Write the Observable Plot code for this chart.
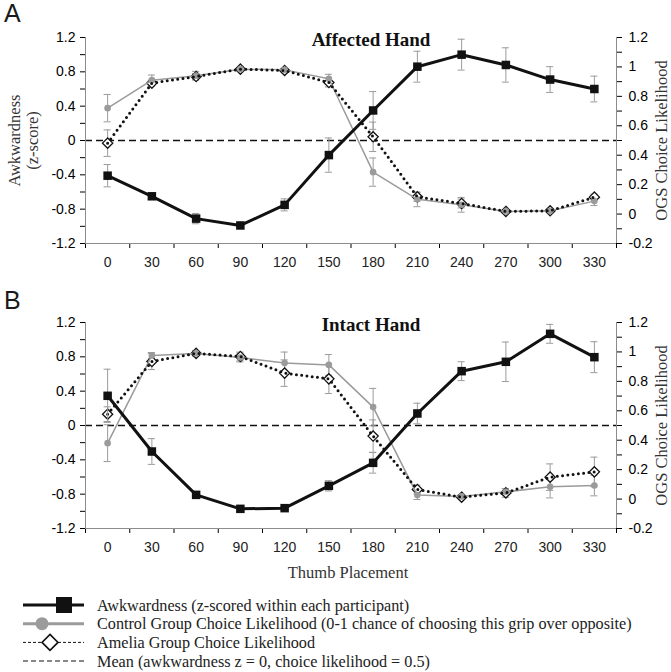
<!DOCTYPE html>
<html><head><meta charset="utf-8">
<script src="https://cdn.jsdelivr.net/npm/d3@7"></script>
<script src="https://cdn.jsdelivr.net/npm/@observablehq/plot@0.6"></script>
<style>
body{margin:0;background:#fff;}
#fig{position:relative;width:671px;height:672px;background:#fff;overflow:hidden;font-family:"Liberation Sans",Arial,sans-serif;}
.letter{position:absolute;left:4px;font-size:25px;line-height:28px;color:#1a1a1a;font-family:"Liberation Sans",Arial,sans-serif;}
.panel{position:absolute;left:0;width:671px;}
.panel svg{position:absolute;left:0;top:0;}
#legend{position:absolute;left:0;}
#legend svg{overflow:visible;}
#fig svg [aria-label$="axis"] line, #fig svg [aria-label$="axis"] path{stroke:#8c8c8c;}
#fig svg [aria-label$="axis"] text{fill:#222;}
</style></head><body>
<div id="fig">
  <div id="A" class="panel" style="top:0px;height:285px"></div>
  <div id="B" class="panel" style="top:285px;height:300px"></div>
  <div class="letter" style="top:-1px">A</div>
  <div class="letter" style="top:286px">B</div>
  <div id="legend" style="top:595px"></div>
</div>
<script>
// ---- data ----
const placements = [0, 30, 60, 90, 120, 150, 180, 210, 240, 270, 300, 330];

// Panel A (Affected Hand): awkwardness in z units, choice likelihoods in 0-1 units
const awkA     = [-0.41, -0.65, -0.91, -0.99, -0.75, -0.17, 0.35, 0.86, 1.00, 0.88, 0.71, 0.60];
const awkAErr  = [0.13, 0.03, 0.06, 0.02, 0.07, 0.20, 0.22, 0.18, 0.18, 0.20, 0.15, 0.15];
const ctrlA    = [0.72, 0.91, 0.94, 0.985, 0.98, 0.92, 0.285, 0.10, 0.063, 0.018, 0.022, 0.088];
const ctrlAErr = [0.093, 0.035, 0.03, 0.01, 0.01, 0.03, 0.096, 0.05, 0.05, 0.01, 0.01, 0.03];
const amelA    = [0.482, 0.89, 0.935, 0.985, 0.976, 0.894, 0.525, 0.117, 0.072, 0.018, 0.022, 0.115];
const amelAErr = [0.09, 0.02, 0.02, 0.01, 0.01, 0.03, 0.10, 0.03, 0.03, 0.01, 0.01, 0.02];

// Panel B (Intact Hand)
const awkB     = [0.346, -0.303, -0.808, -0.971, -0.963, -0.703, -0.435, 0.14, 0.633, 0.742, 1.068, 0.796];
const awkBErr  = [0.31, 0.15, 0.02, 0.02, 0.02, 0.06, 0.12, 0.12, 0.11, 0.23, 0.11, 0.18];
const ctrlB    = [0.38, 0.976, 0.99, 0.962, 0.924, 0.912, 0.625, 0.027, 0.018, 0.049, 0.083, 0.092];
const ctrlBErr = [0.125, 0.02, 0.01, 0.03, 0.075, 0.07, 0.127, 0.03, 0.01, 0.02, 0.075, 0.07];
const amelB    = [0.577, 0.935, 0.99, 0.969, 0.856, 0.817, 0.428, 0.065, 0.013, 0.042, 0.149, 0.185];
const amelBErr = [0.05, 0.055, 0.02, 0.03, 0.09, 0.10, 0.11, 0.03, 0.01, 0.03, 0.09, 0.10];

// ticks
const leftTicks = [-1.2, -0.8, -0.4, 0, 0.4, 0.8, 1.2];
const leftMinorTicks = [-1.2, -1, -0.8, -0.6, -0.4, -0.2, 0, 0.2, 0.4, 0.6, 0.8, 1, 1.2];
const rightTicks = [-0.2, 0, 0.2, 0.4, 0.6, 0.8, 1, 1.2];
const rightMinorTicks = [-0.2, -0.1, 0, 0.1, 0.2, 0.3, 0.4, 0.5, 0.6, 0.7, 0.8, 0.9, 1, 1.1, 1.2];
const xBoundaries = [-15, 15, 45, 75, 105, 135, 165, 195, 225, 255, 285, 315, 345];

const leftLabelLines = ["Awkwardness", "(z-score)"];
const rightLabel = "OGS Choice Likelihood";
const xLabel = "Thumb Placement";
const legendLabels = [
  "Awkwardness (z-scored within each participant)",
  "Control Group Choice Likelihood (0-1 chance of choosing this grip over opposite)",
  "Amelia Group Choice Likelihood",
  "Mean (awkwardness z = 0, choice likelihood = 0.5)"
];

// ---- helpers ----
const fmt = v => String(Math.round(v * 10) / 10);
const labelIf = list => d => list.some(t => Math.abs(t - d) < 1e-9) ? fmt(d) : "";
const grey = "#9b9b9b";
const axisGrey = "#8c8c8c";
const serif = "'Liberation Serif','Times New Roman',serif";
const sans = "'Liberation Sans',Arial,sans-serif";
const diamondSym = {
  draw(ctx, size) {
    const r = Math.sqrt(size) * 0.62625;
    ctx.moveTo(0, -r); ctx.lineTo(r, 0); ctx.lineTo(0, r); ctx.lineTo(-r, 0); ctx.closePath();
  }
};

function errMarks(rows, lo, hi) {
  return [
    Plot.ruleX(rows, {x: "p", y1: lo, y2: hi, stroke: grey, strokeWidth: 1}),
    Plot.ruleY(rows, {y: lo, x1: d => d.p - 2.4, x2: d => d.p + 2.4, stroke: grey, strokeWidth: 1}),
    Plot.ruleY(rows, {y: hi, x1: d => d.p - 2.4, x2: d => d.p + 2.4, stroke: grey, strokeWidth: 1})
  ];
}

function panel(el, cfg) {
  const rows = placements.map((p, i) => ({
    p,
    awk: cfg.awk[i], awkLo: cfg.awk[i] - cfg.awkErr[i], awkHi: cfg.awk[i] + cfg.awkErr[i],
    ctrl: cfg.ctrl[i], ctrlLo: cfg.ctrl[i] - cfg.ctrlErr[i], ctrlHi: cfg.ctrl[i] + cfg.ctrlErr[i],
    amel: cfg.amel[i], amelLo: cfg.amel[i] - cfg.amelErr[i], amelHi: cfg.amel[i] + cfg.amelErr[i]
  }));
  const common = {
    width: 671, height: cfg.height,
    marginLeft: 85, marginRight: 55, marginTop: 37, marginBottom: cfg.height - 243
  };

  // Layer 1: choice likelihood (right axis, 0-1 units)
  const lik = Plot.plot({
    ...common,
    x: {type: "linear", domain: [-15, 345], axis: null},
    y: {type: "linear", domain: [-0.2, 1.2], axis: "right", ticks: rightMinorTicks,
        tickFormat: labelIf(rightTicks), tickSize: 5, tickPadding: 7, label: null},
    style: {background: "white", fontFamily: sans, fontSize: "14px", overflow: "visible"},
    marks: [
      Plot.ruleY([0.5], {stroke: "#111", strokeWidth: 1.6, strokeDasharray: "7,4"}),
      ...errMarks(rows, "ctrlLo", "ctrlHi"),
      ...errMarks(rows, "amelLo", "amelHi"),
      Plot.dot(rows, {x: "p", y: "amel", symbol: diamondSym, r: 4.6, fill: "white", stroke: "#111", strokeWidth: 1.3}),
      Plot.line(rows, {x: "p", y: "ctrl", stroke: grey, strokeWidth: 1.5}),
      Plot.dot(rows, {x: "p", y: "ctrl", r: 3.3, fill: grey, stroke: "none"}),
      Plot.line(rows, {x: "p", y: "amel", stroke: "#111", strokeWidth: 3, strokeDasharray: "0,5.3", strokeLinecap: "round"}),
      Plot.text([rightLabel], {frameAnchor: "right", rotate: -90, dx: 45, textAnchor: "middle",
        fontFamily: serif, fontSize: 16.5, fill: "#333"})
    ]
  });

  // Layer 2: awkwardness (left axis, z units)
  const marks = [
    Plot.ruleX([-15, 345], {stroke: axisGrey, strokeWidth: 1}),
    Plot.ruleY([-1.2], {stroke: axisGrey, strokeWidth: 1}),
    Plot.text(placements, {x: d => d, text: d => String(d), frameAnchor: "bottom", dy: 19, lineAnchor: "middle",
      fontSize: 14, fontFamily: sans, fill: "#222"}),
    ...errMarks(rows, "awkLo", "awkHi"),
    Plot.line(rows, {x: "p", y: "awk", stroke: "#111", strokeWidth: 3}),
    Plot.dot(rows, {x: "p", y: "awk", symbol: "square", r: 4.8, fill: "#111", stroke: "none"}),
    Plot.text([cfg.title], {frameAnchor: "top", dx: 20, dy: 2, lineAnchor: "middle", textAnchor: "middle",
      fontFamily: serif, fontWeight: "bold", fontSize: 19, fill: "#111"})
  ];
  if (cfg.leftLabel) {
    marks.push(Plot.text([leftLabelLines[0]], {frameAnchor: "left", rotate: -90, dx: -71, textAnchor: "middle",
      fontFamily: serif, fontSize: 16.5, fill: "#333"}));
    marks.push(Plot.text([leftLabelLines[1]], {frameAnchor: "left", rotate: -90, dx: -53, textAnchor: "middle",
      fontFamily: serif, fontSize: 16.5, fill: "#333"}));
  }
  if (cfg.xLabel) marks.push(Plot.text([xLabel], {frameAnchor: "bottom", dx: -3, dy: 44, lineAnchor: "middle",
    textAnchor: "middle", fontFamily: serif, fontSize: 16.5, fill: "#333"}));
  const awk = Plot.plot({
    ...common,
    x: {type: "linear", domain: [-15, 345], axis: "bottom", ticks: xBoundaries, tickFormat: () => "", tickSize: 5, label: null},
    y: {type: "linear", domain: [-1.2, 1.2], axis: "left", ticks: leftMinorTicks,
        tickFormat: labelIf(leftTicks), tickSize: 5, tickPadding: 5, label: null},
    style: {background: "none", fontFamily: sans, fontSize: "14px", overflow: "visible"},
    marks
  });
  el.appendChild(lik);
  el.appendChild(awk);
}

panel(document.getElementById("A"), {
  awk: awkA, awkErr: awkAErr, ctrl: ctrlA, ctrlErr: ctrlAErr, amel: amelA, amelErr: amelAErr,
  title: "Affected Hand", leftLabel: true, height: 285
});
panel(document.getElementById("B"), {
  awk: awkB, awkErr: awkBErr, ctrl: ctrlB, ctrlErr: ctrlBErr, amel: amelB, amelErr: amelBErr,
  title: "Intact Hand", xLabel: true, height: 300
});

// ---- legend ----
const ys = [10, 28.7, 47.4, 66];
let s = `<svg width="671" height="77" xmlns="http://www.w3.org/2000/svg">`;
s += `<line x1="23" x2="84" y1="${ys[0]}" y2="${ys[0]}" stroke="#111" stroke-width="3"/>`;
s += `<rect x="56" y="${ys[0]-8}" width="16" height="16" fill="#111"/>`;
s += `<line x1="23" x2="84" y1="${ys[1]}" y2="${ys[1]}" stroke="${grey}" stroke-width="3"/>`;
s += `<circle cx="42" cy="${ys[1]}" r="6.5" fill="${grey}"/>`;
s += `<line x1="23" x2="84" y1="${ys[2]}" y2="${ys[2]}" stroke="#111" stroke-width="1" stroke-dasharray="3,2"/>`;
s += `<path d="M50,${ys[2]-8}L58,${ys[2]}L50,${ys[2]+8}L42,${ys[2]}Z" fill="white" stroke="#111" stroke-width="1.6"/>`;
s += `<line x1="23" x2="84" y1="${ys[3]}" y2="${ys[3]}" stroke="#111" stroke-width="1" stroke-dasharray="5,3"/>`;
legendLabels.forEach((t, i) => {
  s += `<text x="97" y="${ys[i]}" dy="0.35em" font-family="${serif.replace(/'/g, "&quot;")}" font-size="16.2" fill="#222">${t}</text>`;
});
s += `</svg>`;
document.getElementById("legend").innerHTML = s;
</script>
</body></html>
